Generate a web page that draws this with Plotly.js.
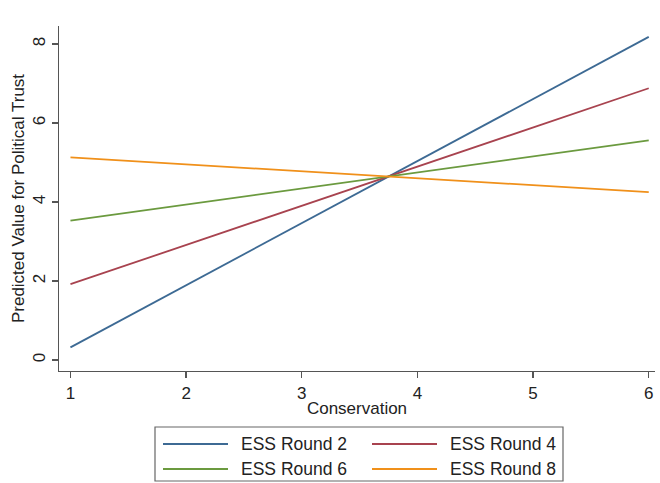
<!DOCTYPE html>
<html>
<head>
<meta charset="utf-8">
<script src="https://cdn.plot.ly/plotly-3.0.1.min.js"></script>
<style>html,body{margin:0;padding:0;background:#fff;}#chart{width:660px;height:483px;}</style>
</head>
<body>
<div id="chart"></div>
<script>
const conservation = [1, 6];
const seriesNames = ["ESS Round 2", "ESS Round 4", "ESS Round 6", "ESS Round 8"];
const round2 = [0.32, 8.18];
const round4 = [1.92, 6.88];
const round6 = [3.53, 5.56];
const round8 = [5.13, 4.25];
const xTicks = [1, 2, 3, 4, 5, 6];
const yTicks = [0, 2, 4, 6, 8];
const colors = ["#3d6a94", "#a8434f", "#6b9a3f", "#f0901a"];

const values = [round2, round4, round6, round8];
const traces = values.map((v, i) => ({
  x: conservation, y: v, type: "scatter", mode: "lines",
  name: seriesNames[i], line: {color: colors[i], width: 1.8}, showlegend: false
}));

const FONT = "Liberation Sans, Arial, sans-serif";
const axisCommon = {
  showgrid: false, zeroline: false, showline: true, linecolor: "#555", linewidth: 1.3,
  ticks: "outside", ticklen: 6, tickcolor: "#555", tickwidth: 1.3,
  tickfont: {family: FONT, size: 17, color: "#222"}
};

// plot area geometry (pixels) for the hand-drawn legend box
const W = 660, H = 483, L = 59, R = 5, T = 26, B = 112;
const pw = W - L - R, ph = H - T - B;
const px = x => (x - L) / pw;
const py = y => (H - B - y) / ph;

const shapes = [{
  type: "rect", xref: "paper", yref: "paper",
  x0: px(155), x1: px(563), y0: py(481), y1: py(427),
  line: {color: "#666", width: 1.2}, fillcolor: "rgba(0,0,0,0)"
}];
const annotations = [];
const colX = [[163, 228, 239], [372, 437, 448]];
const rowY = [444, 469];
seriesNames.forEach((name, i) => {
  const c = colX[i % 2], r = rowY[Math.floor(i / 2)];
  shapes.push({type: "line", xref: "paper", yref: "paper",
    x0: px(c[0]), x1: px(c[1]), y0: py(r), y1: py(r),
    line: {color: colors[i], width: 1.8}});
  annotations.push({xref: "paper", yref: "paper", x: px(c[2]), y: py(r),
    xanchor: "left", yanchor: "middle", showarrow: false, text: name,
    font: {family: FONT, size: 17.5, color: "#222"}});
});

const layout = {
  width: W, height: H,
  margin: {l: L, r: R, t: T, b: B},
  paper_bgcolor: "#fff", plot_bgcolor: "#fff",
  font: {family: FONT, color: "#222"},
  xaxis: Object.assign({}, axisCommon, {
    range: [0.901, 6.054], tickvals: xTicks, ticktext: xTicks.map(String),
    title: {text: "Conservation", font: {size: 17, color: "#222"}, standoff: 0}
  }),
  yaxis: Object.assign({}, axisCommon, {
    range: [-0.278, 8.456], tickvals: yTicks, ticktext: yTicks.map(String), tickangle: -90,
    title: {text: "Predicted Value for Political Trust", font: {size: 17, color: "#222"}, standoff: 1}
  }),
  showlegend: false,
  shapes: shapes,
  annotations: annotations
};

Plotly.newPlot("chart", traces, layout, {staticPlot: true, displayModeBar: false});
</script>
</body>
</html>
